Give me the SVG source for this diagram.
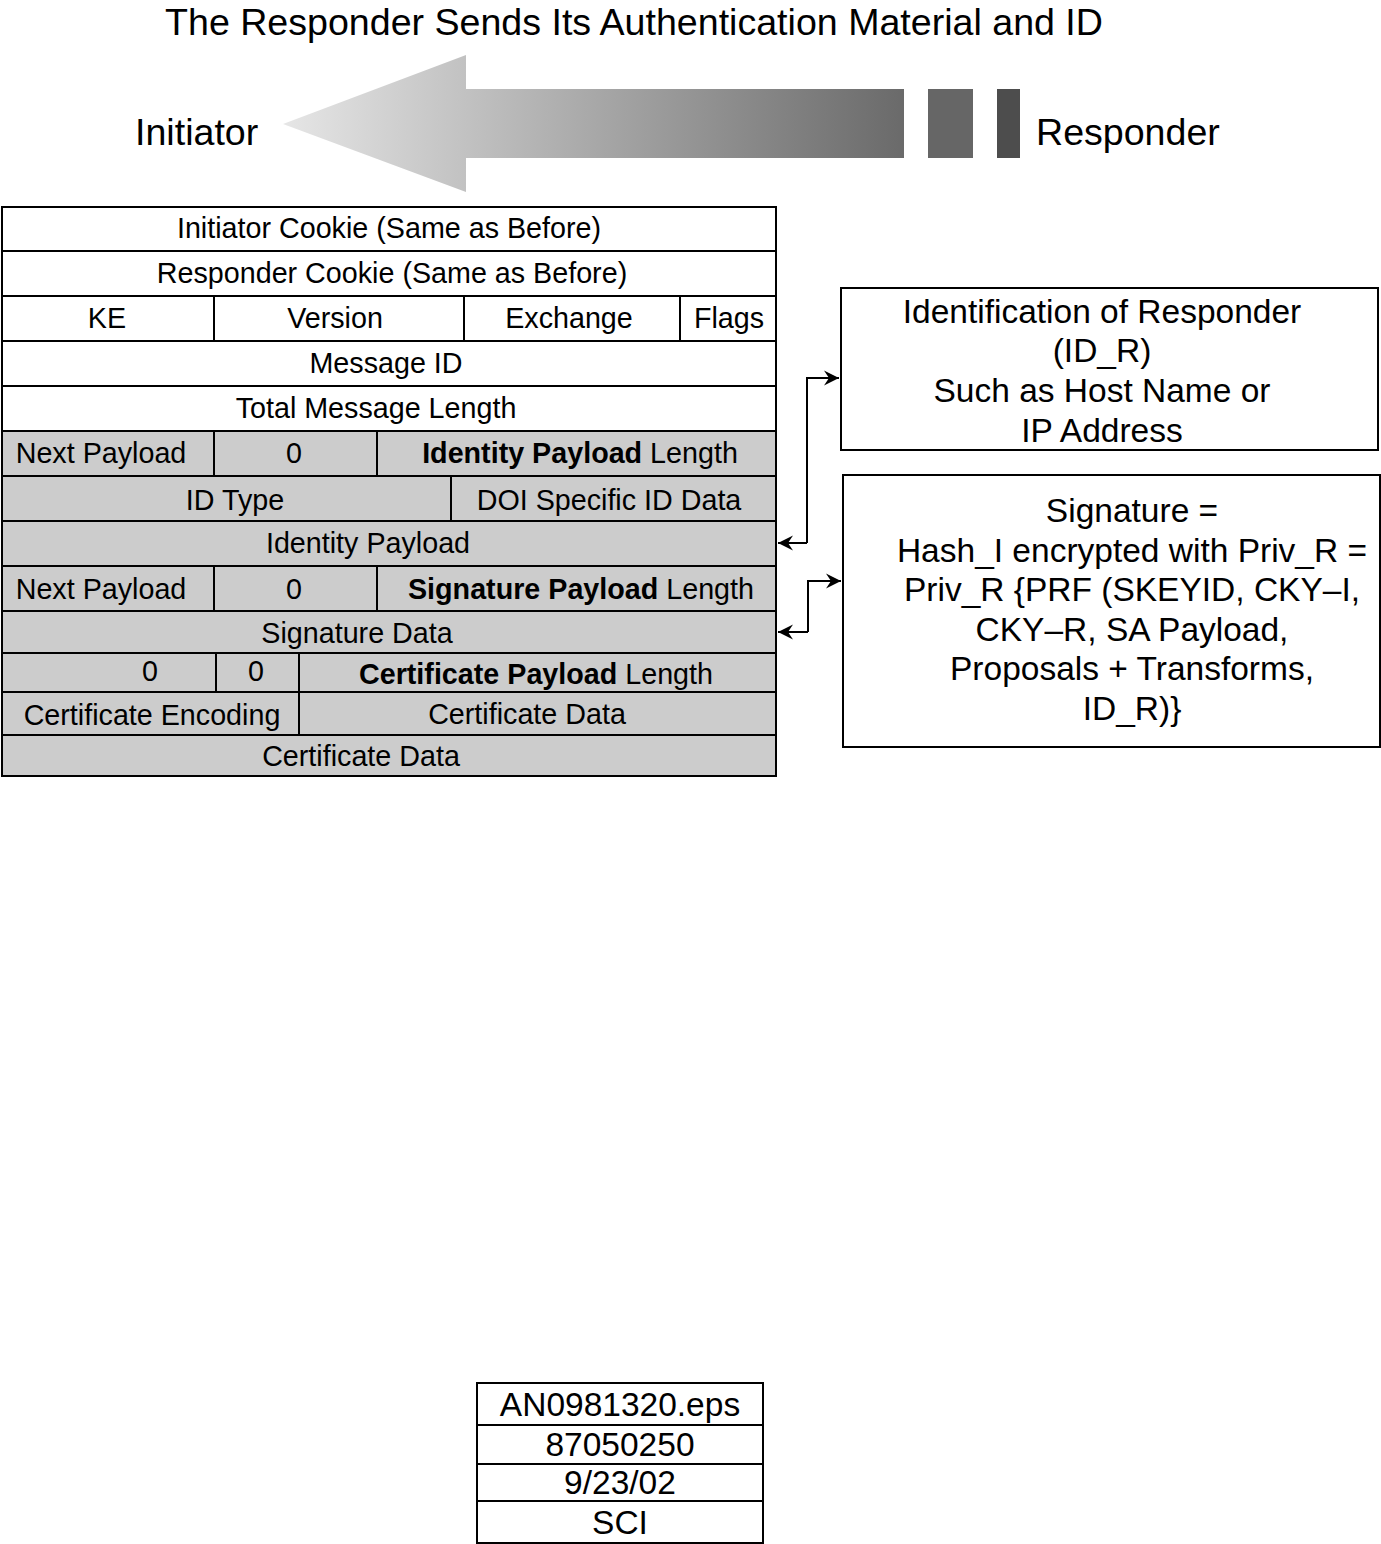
<svg xmlns="http://www.w3.org/2000/svg" width="1381" height="1544" viewBox="0 0 1381 1544">
<style>
text{font-family:"Liberation Sans",Arial,sans-serif;fill:#000}
.t{font-size:28.7px;text-anchor:middle}
.b{font-weight:bold}
.big{font-size:37.6px}
.box{font-size:33.5px;text-anchor:middle}
.w{fill:#fff;stroke:#000;stroke-width:2}
.g{fill:#cccccc;stroke:#000;stroke-width:2}
.ln{stroke:#000;stroke-width:2;fill:none}
</style>
<defs>
<linearGradient id="ag" x1="283" y1="0" x2="904" y2="0" gradientUnits="userSpaceOnUse">
<stop offset="0" stop-color="#e6e6e6"/>
<stop offset="1" stop-color="#6a6a6a"/>
</linearGradient>
<marker id="ah" viewBox="-16 -8 17 16" refX="0" refY="0" markerWidth="17" markerHeight="16" markerUnits="userSpaceOnUse" orient="auto">
<path d="M0,0 L-15,-7.5 L-10,0 L-15,7.5 Z" fill="#000"/>
</marker>
</defs>
<rect width="1381" height="1544" fill="#fff"/>

<g id="title">
<text x="634" y="35" class="big" text-anchor="middle">The Responder Sends Its Authentication Material and ID</text>
</g>

<g id="arrow">
<path d="M283,124 L466,55 L466,89 L904,89 L904,158 L466,158 L466,192 Z" fill="url(#ag)"/>
<rect x="928" y="89" width="45" height="69" fill="#666666"/>
<rect x="997" y="89" width="23" height="69" fill="#4d4d4d"/>
</g>
<g id="initiator"><text x="135" y="145" class="big">Initiator</text></g>
<g id="responder"><text x="1036" y="145" class="big">Responder</text></g>

<g id="packet">
<rect class="w" x="2" y="207" width="774" height="44"/>
<text class="t" x="389" y="238">Initiator Cookie (Same as Before)</text>
<rect class="w" x="2" y="251" width="774" height="45"/>
<text class="t" x="392" y="283">Responder Cookie (Same as Before)</text>
<rect class="w" x="2" y="296" width="774" height="45"/>
<line class="ln" x1="214" y1="296" x2="214" y2="341"/>
<line class="ln" x1="464" y1="296" x2="464" y2="341"/>
<line class="ln" x1="680" y1="296" x2="680" y2="341"/>
<text class="t" x="107" y="328">KE</text>
<text class="t" x="335" y="328">Version</text>
<text class="t" x="569" y="328">Exchange</text>
<text class="t" x="729" y="328">Flags</text>
<rect class="w" x="2" y="341" width="774" height="45"/>
<text class="t" x="386" y="373">Message ID</text>
<rect class="w" x="2" y="386" width="774" height="45"/>
<text class="t" x="376" y="418">Total Message Length</text>

<rect class="g" x="2" y="431" width="774" height="45"/>
<line class="ln" x1="214" y1="431" x2="214" y2="476"/>
<line class="ln" x1="377" y1="431" x2="377" y2="476"/>
<text class="t" x="101" y="463">Next Payload</text>
<text class="t" x="294" y="463">0</text>
<text class="t" x="580" y="463"><tspan class="b">Identity Payload</tspan> Length</text>
<rect class="g" x="2" y="476" width="774" height="45"/>
<line class="ln" x1="451" y1="476" x2="451" y2="521"/>
<text class="t" x="235" y="510">ID Type</text>
<text class="t" x="609" y="510">DOI Specific ID Data</text>
<rect class="g" x="2" y="521" width="774" height="45"/>
<text class="t" x="368" y="553">Identity Payload</text>
<rect class="g" x="2" y="566" width="774" height="45"/>
<line class="ln" x1="214" y1="566" x2="214" y2="611"/>
<line class="ln" x1="377" y1="566" x2="377" y2="611"/>
<text class="t" x="101" y="599">Next Payload</text>
<text class="t" x="294" y="599">0</text>
<text class="t" x="581" y="599"><tspan class="b">Signature Payload</tspan> Length</text>
<rect class="g" x="2" y="611" width="774" height="42"/>
<text class="t" x="357" y="643">Signature Data</text>
<rect class="g" x="2" y="653" width="774" height="39"/>
<line class="ln" x1="216" y1="653" x2="216" y2="692"/>
<line class="ln" x1="299" y1="653" x2="299" y2="692"/>
<text class="t" x="150" y="681">0</text>
<text class="t" x="256" y="681">0</text>
<text class="t" x="536" y="684"><tspan class="b">Certificate Payload</tspan> Length</text>
<rect class="g" x="2" y="692" width="774" height="43"/>
<line class="ln" x1="299" y1="692" x2="299" y2="735"/>
<text class="t" x="152" y="725">Certificate Encoding</text>
<text class="t" x="527" y="724">Certificate Data</text>
<rect class="g" x="2" y="735" width="774" height="41"/>
<text class="t" x="361" y="766">Certificate Data</text>
</g>

<g id="id-box">
<rect class="w" x="841" y="288" width="537" height="162"/>
<text class="box" x="1102" y="323">Identification of Responder</text>
<text class="box" x="1102" y="362">(ID_R)</text>
<text class="box" x="1102" y="402">Such as Host Name or</text>
<text class="box" x="1102" y="442">IP Address</text>
</g>

<g id="sig-box">
<rect class="w" x="843" y="475" width="537" height="272"/>
<text class="box" x="1132" y="522">Signature =</text>
<text class="box" x="1132" y="562">Hash_I encrypted with Priv_R =</text>
<text class="box" x="1132" y="601">Priv_R {PRF (SKEYID, CKY–I,</text>
<text class="box" x="1132" y="641">CKY–R, SA Payload,</text>
<text class="box" x="1132" y="680">Proposals + Transforms,</text>
<text class="box" x="1132" y="720">ID_R)}</text>
</g>

<g id="connectors">
<path class="ln" d="M807,543 L807,378 L839,378" marker-end="url(#ah)"/>
<path class="ln" d="M807,543 L778,543" marker-end="url(#ah)"/>
<path class="ln" d="M808,632 L808,581 L841,581" marker-end="url(#ah)"/>
<path class="ln" d="M808,632 L778,632" marker-end="url(#ah)"/>
</g>

<g id="stamp">
<rect class="w" x="477" y="1383" width="286" height="160"/>
<line class="ln" x1="477" y1="1425" x2="763" y2="1425"/>
<line class="ln" x1="477" y1="1464" x2="763" y2="1464"/>
<line class="ln" x1="477" y1="1501" x2="763" y2="1501"/>
<text class="box" x="620" y="1416">AN0981320.eps</text>
<text class="box" x="620" y="1456">87050250</text>
<text class="box" x="620" y="1494">9/23/02</text>
<text class="box" x="620" y="1534">SCI</text>
</g>
</svg>
